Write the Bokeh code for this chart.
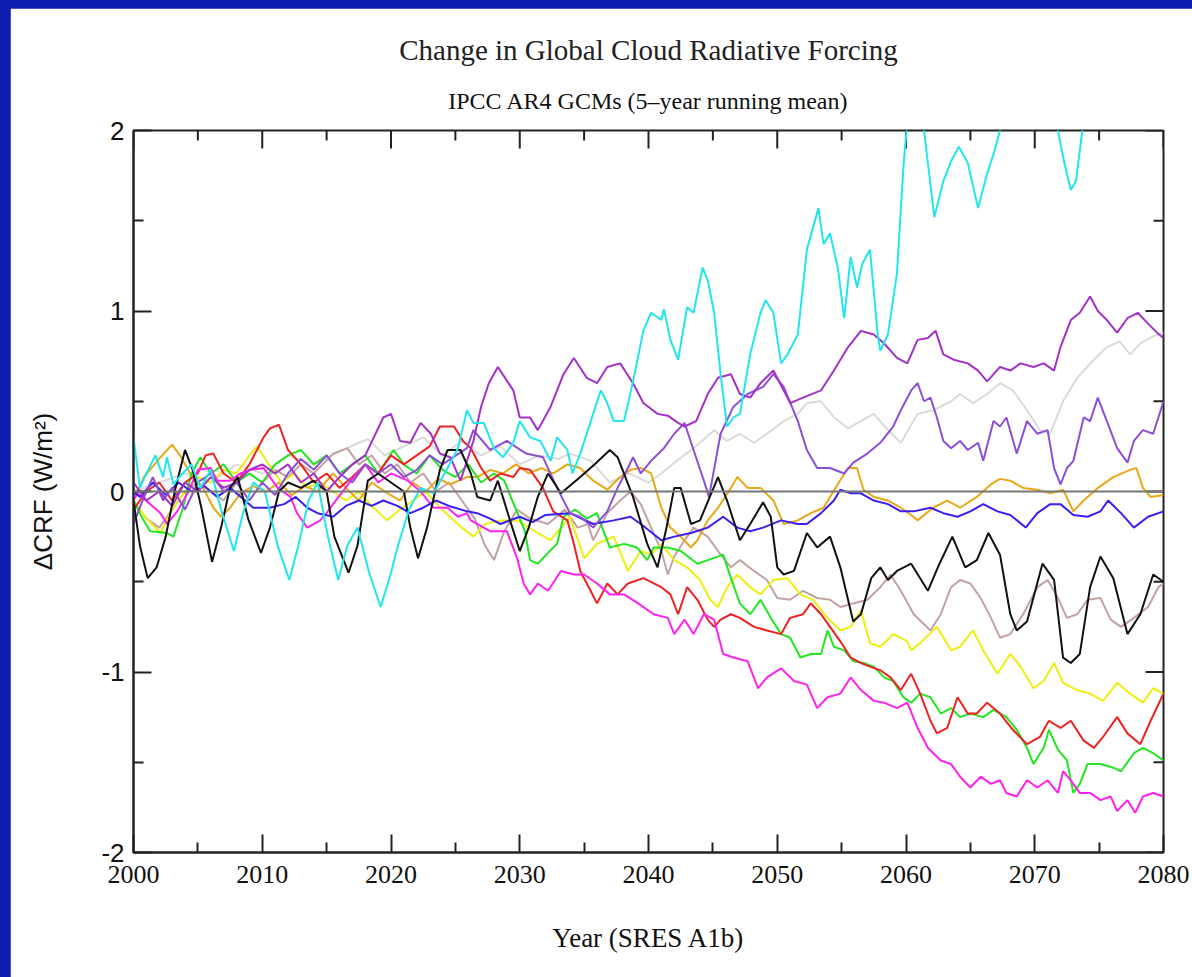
import math
from bokeh.plotting import figure
from bokeh.models import Range1d, LinearAxis, Span, Title, FixedTicker
from bokeh.layouts import column
from bokeh.embed import file_html
from bokeh.resources import INLINE

# ---------------- data ----------------
x_ticks = [2000, 2010, 2020, 2030, 2040, 2050, 2060, 2070, 2080]
x_minor = [2005, 2015, 2025, 2035, 2045, 2055, 2065, 2075]
y_ticks = [-2, -1, 0, 1, 2]
y_minor = [-1.5, -0.5, 0.5, 1.5]
y_tick_labels = ["-2", "-1", "0", "1", "2"]

gray_yr = [2000, 2002, 2004, 2006, 2008, 2010, 2012, 2014, 2016, 2017.5, 2018.2, 2019.5, 2021, 2022.5, 2024, 2025.5, 2027, 2028.5, 2030, 2031.5, 2033, 2033.9, 2035.5, 2037, 2038.5, 2040, 2041, 2042, 2043.5, 2045.1, 2046.1, 2047.1, 2048.2, 2049.2, 2050.5, 2051.6, 2052.3, 2053.4, 2054.4, 2055.5, 2056.5, 2057.5, 2058.6, 2059.6, 2060.9, 2062.1, 2063.5, 2064.2, 2065.2, 2066.3, 2067.3, 2068.3, 2069.4, 2070.4, 2071.2, 2072.2, 2073.3, 2074.6, 2075.6, 2076.6, 2077.4, 2078.2, 2079.2, 2080]
gray_val = [0.0, 0.05, 0.1, 0.05, 0.15, 0.1, 0.2, 0.15, 0.22, 0.27, 0.29, 0.2, 0.25, 0.3, 0.2, 0.28, 0.2, 0.25, 0.15, 0.2, 0.18, 0.21, 0.17, 0.05, 0.1, 0.05, 0.1, 0.16, 0.24, 0.34, 0.28, 0.32, 0.27, 0.32, 0.39, 0.43, 0.49, 0.5, 0.41, 0.35, 0.39, 0.43, 0.34, 0.27, 0.43, 0.45, 0.5, 0.54, 0.49, 0.54, 0.6, 0.56, 0.45, 0.34, 0.32, 0.5, 0.63, 0.73, 0.8, 0.83, 0.76, 0.82, 0.86, 0.88]

rosy_yr = [2000, 2001, 2002, 2003, 2004, 2005, 2006, 2007, 2008, 2009, 2010, 2011, 2012, 2013, 2014, 2015.5, 2016.6, 2017.5, 2018.5, 2019.5, 2020.5, 2021.5, 2022.5, 2023.5, 2024.5, 2025.5, 2026.5, 2027.3, 2028, 2028.8, 2029.8, 2030.8, 2032.2, 2033.5, 2034.5, 2035.3, 2035.7, 2036.8, 2037.8, 2038.6, 2039.4, 2040.2, 2041, 2041.5, 2042, 2042.8, 2043.5, 2044.6, 2045.6, 2046.4, 2047.1, 2048.2, 2049.2, 2050, 2051, 2052, 2053.1, 2054.1, 2054.9, 2055.9, 2057, 2058, 2058.8, 2059.6, 2060.6, 2061.9, 2062.7, 2063.5, 2064.2, 2065, 2065.8, 2066.6, 2067.3, 2068.1, 2069.1, 2070.2, 2071, 2071.8, 2072.5, 2073.3, 2074.1, 2075.1, 2075.9, 2076.7, 2077.7, 2078.8, 2079.6, 2080]
rosy_val = [-0.05, -0.15, -0.2, -0.1, 0.0, 0.05, 0.0, -0.05, 0.05, 0.1, 0.05, 0.12, 0.08, 0.15, 0.1, 0.21, 0.24, 0.15, 0.2, 0.1, 0.15, 0.05, 0.1, 0.0, 0.05, -0.05, -0.15, -0.3, -0.38, -0.22, -0.1, -0.15, -0.18, -0.1, -0.2, -0.18, -0.27, -0.12, -0.05, 0.0, -0.07, -0.2, -0.33, -0.46, -0.36, -0.27, -0.2, -0.25, -0.35, -0.42, -0.38, -0.44, -0.49, -0.59, -0.6, -0.55, -0.59, -0.6, -0.64, -0.62, -0.6, -0.53, -0.46, -0.55, -0.68, -0.77, -0.68, -0.53, -0.49, -0.51, -0.59, -0.7, -0.81, -0.79, -0.68, -0.53, -0.49, -0.59, -0.7, -0.68, -0.6, -0.59, -0.71, -0.75, -0.7, -0.64, -0.53, -0.51]

yellow_yr = [2000, 2001, 2002.1, 2003, 2004, 2005, 2006, 2007, 2008, 2009, 2009.6, 2010.5, 2011.5, 2012.5, 2013.5, 2014.5, 2015.5, 2016.5, 2017.5, 2018.5, 2019.7, 2020.7, 2021.7, 2022.7, 2023.7, 2024.7, 2025.5, 2026.4, 2027.3, 2028.5, 2029.8, 2031.4, 2032.4, 2033.9, 2035, 2036, 2037.3, 2038.4, 2039.4, 2040.2, 2041, 2042, 2043, 2044, 2044.8, 2045.4, 2046.1, 2046.9, 2047.9, 2048.7, 2049.7, 2050.8, 2051.8, 2052.8, 2053.9, 2054.9, 2055.7, 2056.5, 2057.2, 2058, 2059, 2060.1, 2060.4, 2061.1, 2062.4, 2063.5, 2064.2, 2065.2, 2066, 2067.1, 2068.1, 2068.9, 2069.9, 2070.7, 2071.5, 2072.2, 2073.3, 2074.3, 2075.3, 2076.4, 2077.4, 2078.4, 2079.2, 2080]
yellow_val = [-0.05, -0.15, -0.23, -0.1, 0.0, 0.08, 0.05, 0.12, 0.1, 0.2, 0.25, 0.15, 0.05, 0.1, 0.02, 0.05, 0.0, -0.05, 0.0, -0.08, -0.16, -0.1, -0.05, 0.0, -0.08, -0.15, -0.2, -0.25, -0.18, -0.16, -0.16, -0.23, -0.27, -0.14, -0.37, -0.29, -0.25, -0.44, -0.33, -0.35, -0.29, -0.38, -0.42, -0.49, -0.6, -0.64, -0.53, -0.46, -0.53, -0.57, -0.49, -0.48, -0.57, -0.6, -0.7, -0.77, -0.75, -0.66, -0.84, -0.86, -0.79, -0.83, -0.88, -0.84, -0.75, -0.88, -0.86, -0.77, -0.88, -1.01, -0.9, -0.97, -1.09, -1.05, -0.95, -1.06, -1.1, -1.12, -1.16, -1.06, -1.12, -1.17, -1.09, -1.12]

orange_yr = [2000, 2000.8, 2002.1, 2003, 2003.7, 2004.4, 2005.4, 2006.2, 2006.8, 2007.5, 2008.3, 2009.3, 2010.3, 2011.3, 2012.3, 2013.3, 2014.3, 2015.5, 2016.5, 2017.5, 2018.5, 2019.5, 2020.7, 2021.7, 2022.7, 2023.7, 2024.6, 2025.9, 2026.7, 2027.7, 2028.7, 2029.7, 2030.7, 2031.7, 2032.6, 2033.7, 2034.7, 2035.7, 2036.8, 2037.8, 2038.6, 2039.4, 2040.2, 2041, 2041.7, 2042.5, 2043.3, 2043.8, 2044.6, 2045.4, 2046.4, 2046.9, 2047.7, 2048.7, 2049.7, 2050.5, 2051.6, 2052.6, 2053.6, 2054.7, 2055.5, 2056.2, 2056.7, 2057.5, 2058.6, 2059.6, 2060.4, 2060.9, 2062.1, 2063.2, 2064.2, 2065.5, 2066.6, 2067.3, 2068.1, 2069.1, 2070.2, 2071.2, 2072.2, 2073, 2073.8, 2074.9, 2076.1, 2077.4, 2077.9, 2078.4, 2079, 2080]
orange_val = [-0.05, 0.08, 0.19, 0.26, 0.19, 0.1, 0.02, -0.09, -0.14, -0.09, -0.01, 0.03, 0.0, 0.05, -0.02, 0.03, 0.0, 0.1, 0.02, -0.05, 0.05, 0.0, -0.05, 0.05, 0.0, 0.07, 0.04, 0.08, 0.08, 0.12, 0.1, 0.15, 0.1, 0.13, 0.1, 0.15, 0.13, 0.06, 0.01, 0.08, 0.12, 0.13, 0.1, -0.09, -0.2, -0.25, -0.31, -0.27, -0.16, -0.09, 0.02, 0.08, 0.02, 0.02, -0.05, -0.18, -0.16, -0.12, -0.09, 0.04, 0.13, 0.13, 0.01, -0.03, -0.05, -0.09, -0.13, -0.16, -0.09, -0.05, -0.09, -0.03, 0.04, 0.07, 0.06, 0.02, 0.01, -0.01, 0.01, -0.11, -0.05, 0.02, 0.08, 0.12, 0.13, 0.02, -0.03, -0.02]

green_yr = [2000, 2000.7, 2001.3, 2002.6, 2003.1, 2003.8, 2004.5, 2005.2, 2006, 2007, 2008, 2009, 2010, 2011, 2012, 2013, 2014, 2015, 2016, 2017, 2018, 2019, 2020.2, 2021, 2022, 2023, 2024, 2025, 2026, 2027, 2028, 2028.8, 2029.3, 2030.4, 2030.8, 2031.4, 2032.2, 2032.9, 2033.4, 2034.3, 2035.2, 2036, 2036.5, 2037, 2038.1, 2039.1, 2039.9, 2040.4, 2041.5, 2042.5, 2043.8, 2044.6, 2045.8, 2046.4, 2047.1, 2047.9, 2048.7, 2049.5, 2050.3, 2051, 2051.8, 2052.6, 2053.4, 2053.9, 2054.4, 2055.2, 2055.9, 2056.7, 2057.5, 2058.3, 2059, 2059.8, 2060.4, 2061.1, 2061.9, 2062.7, 2063.5, 2064.2, 2065, 2066, 2066.8, 2067.8, 2068.6, 2069.4, 2069.9, 2070.7, 2071.1, 2071.8, 2072.5, 2073, 2073.5, 2074.1, 2075.1, 2076.1, 2076.7, 2077.7, 2078.4, 2079.2, 2080]
green_val = [-0.05, -0.15, -0.22, -0.23, -0.25, -0.1, 0.1, 0.19, 0.1, 0.15, 0.05, 0.1, 0.05, 0.15, 0.2, 0.23, 0.15, 0.2, 0.1, 0.15, 0.2, 0.1, 0.23, 0.15, 0.1, 0.2, 0.12, 0.08, 0.15, 0.05, 0.1, 0.06, -0.03, -0.22, -0.38, -0.4, -0.34, -0.29, -0.14, -0.1, -0.15, -0.12, -0.22, -0.31, -0.29, -0.31, -0.38, -0.31, -0.31, -0.33, -0.4, -0.38, -0.35, -0.48, -0.62, -0.68, -0.6, -0.7, -0.79, -0.81, -0.92, -0.9, -0.9, -0.77, -0.86, -0.88, -0.94, -0.95, -0.97, -1.03, -1.05, -1.14, -1.17, -1.12, -1.14, -1.23, -1.2, -1.25, -1.23, -1.25, -1.21, -1.25, -1.32, -1.42, -1.51, -1.42, -1.32, -1.43, -1.49, -1.67, -1.62, -1.51, -1.51, -1.53, -1.55, -1.45, -1.42, -1.45, -1.49]

red_yr = [2000, 2001, 2002, 2003, 2004, 2005, 2005.6, 2006.2, 2007, 2008, 2009, 2010.1, 2010.6, 2011.3, 2012, 2013, 2014, 2015, 2016, 2017, 2018, 2019, 2020, 2021, 2022, 2023, 2023.8, 2024.9, 2025.6, 2026.2, 2027, 2027.7, 2028.5, 2029.5, 2030, 2030.8, 2031.8, 2032.6, 2033.7, 2034.2, 2034.7, 2035.5, 2036, 2036.8, 2037.6, 2038.4, 2039.6, 2041, 2041.7, 2042.3, 2043, 2043.8, 2044.6, 2045.1, 2045.6, 2046.4, 2047.1, 2048.2, 2049.2, 2050.3, 2051, 2052, 2052.6, 2053.4, 2054.1, 2054.9, 2055.7, 2056.5, 2057.2, 2058, 2058.8, 2059.6, 2060.4, 2061.1, 2061.9, 2062.4, 2063.2, 2064, 2064.8, 2065.5, 2066.3, 2067.3, 2068.3, 2069.4, 2070.4, 2071.1, 2072, 2072.8, 2073.8, 2074.6, 2075.3, 2076.4, 2077.2, 2078.2, 2079, 2080]
red_val = [-0.1, 0.0, 0.05, -0.05, 0.05, 0.1, 0.2, 0.21, 0.1, 0.05, 0.15, 0.3, 0.35, 0.37, 0.23, 0.15, 0.05, 0.1, 0.02, 0.08, 0.15, 0.1, 0.2, 0.15, 0.2, 0.25, 0.36, 0.36, 0.28, 0.24, 0.13, 0.06, 0.1, 0.08, 0.13, 0.12, 0.02, -0.11, -0.16, -0.29, -0.44, -0.55, -0.62, -0.51, -0.57, -0.51, -0.48, -0.53, -0.57, -0.68, -0.53, -0.6, -0.71, -0.75, -0.71, -0.68, -0.7, -0.75, -0.77, -0.79, -0.7, -0.68, -0.62, -0.68, -0.75, -0.83, -0.92, -0.95, -0.97, -0.99, -1.03, -1.1, -1.01, -1.12, -1.27, -1.34, -1.31, -1.14, -1.23, -1.23, -1.17, -1.23, -1.32, -1.4, -1.36, -1.27, -1.31, -1.27, -1.38, -1.42, -1.36, -1.25, -1.34, -1.4, -1.27, -1.12]

magenta_yr = [2000, 2000.3, 2001.3, 2002.1, 2002.6, 2003.4, 2004.2, 2005, 2006, 2006.5, 2007.5, 2008.3, 2009.1, 2010.1, 2011.2, 2012.2, 2012.7, 2013.5, 2014.5, 2015, 2015.5, 2016.9, 2018, 2019, 2020, 2021.3, 2022.3, 2023.3, 2024.4, 2025.2, 2025.9, 2026.2, 2027.7, 2029, 2029.8, 2030.3, 2030.8, 2031.4, 2032.2, 2033.2, 2034.2, 2035, 2036, 2037, 2038.1, 2039.2, 2040.4, 2041.5, 2042, 2042.8, 2043.5, 2044.3, 2045.1, 2045.8, 2046.6, 2047.7, 2048.5, 2049.2, 2050.3, 2051.3, 2052.3, 2053.1, 2053.9, 2054.9, 2055.7, 2056.5, 2057.5, 2058.3, 2059.3, 2060.1, 2060.9, 2061.7, 2062.7, 2063.5, 2064.2, 2065, 2065.8, 2066.6, 2067.3, 2067.8, 2068.6, 2069.4, 2070.2, 2071, 2071.8, 2072.2, 2072.8, 2073.5, 2074.3, 2075.1, 2075.9, 2076.4, 2077.2, 2077.8, 2078.4, 2079.2, 2080]
magenta_val = [-0.05, -0.01, -0.07, -0.12, -0.18, -0.11, -0.01, 0.12, 0.13, 0.06, 0.06, 0.1, 0.12, 0.13, 0.02, -0.03, -0.12, -0.2, -0.16, -0.12, -0.07, 0.06, 0.15, 0.05, 0.1, 0.06, 0.0, -0.09, -0.09, -0.14, -0.12, -0.16, -0.22, -0.22, -0.37, -0.51, -0.57, -0.51, -0.55, -0.44, -0.46, -0.46, -0.51, -0.57, -0.57, -0.62, -0.68, -0.7, -0.79, -0.71, -0.79, -0.68, -0.71, -0.9, -0.92, -0.94, -1.09, -1.03, -0.98, -1.05, -1.07, -1.2, -1.14, -1.12, -1.03, -1.1, -1.16, -1.17, -1.2, -1.17, -1.31, -1.42, -1.49, -1.51, -1.58, -1.64, -1.58, -1.62, -1.6, -1.67, -1.69, -1.6, -1.64, -1.6, -1.67, -1.55, -1.6, -1.67, -1.67, -1.71, -1.69, -1.77, -1.71, -1.78, -1.69, -1.67, -1.69]

blue_yr = [2000, 2000.5, 2001.5, 2002.5, 2003.5, 2004.5, 2005.5, 2006.5, 2007.5, 2008.5, 2009.3, 2010.6, 2011.7, 2012.6, 2013.5, 2014.3, 2015.5, 2016.5, 2017.5, 2018.5, 2019.4, 2020.5, 2021.5, 2022.5, 2023.5, 2024.5, 2025.9, 2026.7, 2027.7, 2028.5, 2030, 2031, 2032, 2033.9, 2035.7, 2037.3, 2038.6, 2039.4, 2041, 2042, 2043.3, 2044.6, 2045.8, 2046.9, 2047.9, 2048.9, 2050.3, 2051.6, 2052.3, 2053.4, 2054.4, 2054.9, 2055.7, 2056.5, 2057.5, 2058.6, 2059.6, 2060.6, 2061.9, 2062.9, 2064, 2065, 2066, 2067.1, 2068.1, 2069.3, 2070.2, 2071.2, 2072, 2073, 2074.1, 2075.1, 2075.7, 2076.7, 2077.7, 2078.8, 2080]
blue_val = [0.0, -0.03, 0.05, -0.02, 0.05, 0.0, 0.03, -0.03, 0.02, -0.04, -0.09, -0.09, -0.07, -0.03, -0.09, -0.12, -0.14, -0.08, -0.05, -0.08, -0.05, -0.08, -0.12, -0.09, -0.05, -0.08, -0.11, -0.12, -0.15, -0.18, -0.14, -0.17, -0.13, -0.12, -0.18, -0.16, -0.14, -0.18, -0.27, -0.25, -0.23, -0.2, -0.14, -0.2, -0.22, -0.2, -0.16, -0.18, -0.18, -0.12, -0.05, 0.01, -0.01, -0.01, -0.05, -0.07, -0.11, -0.11, -0.09, -0.12, -0.14, -0.11, -0.07, -0.11, -0.13, -0.2, -0.12, -0.07, -0.07, -0.13, -0.14, -0.11, -0.05, -0.12, -0.2, -0.14, -0.11]

purple2_yr = [2000, 2000.7, 2001.5, 2002.3, 2003, 2004, 2005, 2006, 2007, 2008, 2009, 2010, 2011, 2012, 2013, 2014, 2015, 2016, 2017, 2018, 2019, 2020, 2021, 2022, 2023, 2024, 2025.9, 2026.4, 2027.7, 2029, 2030.5, 2031.8, 2032.9, 2033.9, 2034.7, 2035.7, 2036.8, 2037.6, 2038.4, 2038.8, 2039.4, 2040.2, 2041.2, 2042, 2042.8, 2043.5, 2044.3, 2044.7, 2045.6, 2046.6, 2047.7, 2048.9, 2049.7, 2050.5, 2051.6, 2052.3, 2053.1, 2054.1, 2055.2, 2055.9, 2057, 2058, 2059, 2059.6, 2060.4, 2060.9, 2061.4, 2061.9, 2062.4, 2062.9, 2063.5, 2064.2, 2064.8, 2065.6, 2066, 2066.8, 2067.3, 2067.8, 2068.6, 2069.4, 2070.2, 2071, 2071.5, 2072, 2072.5, 2073, 2073.8, 2074.3, 2074.9, 2075.6, 2076.4, 2077.2, 2077.7, 2078.4, 2079.2, 2080]
purple2_val = [-0.18, -0.05, 0.08, -0.05, 0.02, -0.1, 0.05, 0.1, 0.0, 0.05, -0.05, 0.05, -0.02, 0.1, 0.18, 0.12, 0.2, 0.1, 0.05, 0.15, 0.1, 0.15, 0.08, 0.12, 0.2, 0.15, 0.24, 0.34, 0.23, 0.28, 0.21, 0.19, 0.02, -0.12, -0.14, -0.2, -0.11, 0.02, 0.13, 0.19, 0.1, 0.17, 0.24, 0.32, 0.38, 0.23, 0.06, -0.03, 0.32, 0.47, 0.54, 0.58, 0.65, 0.58, 0.39, 0.23, 0.13, 0.13, 0.1, 0.16, 0.21, 0.27, 0.36, 0.45, 0.56, 0.6, 0.5, 0.52, 0.41, 0.28, 0.24, 0.28, 0.23, 0.27, 0.17, 0.39, 0.36, 0.41, 0.21, 0.39, 0.32, 0.34, 0.13, 0.04, 0.13, 0.17, 0.41, 0.39, 0.52, 0.39, 0.24, 0.16, 0.28, 0.34, 0.32, 0.5]

purple1_yr = [2000, 2001, 2002, 2003, 2004, 2005, 2006, 2007, 2008, 2009, 2010, 2011, 2012, 2013, 2014, 2015, 2016, 2017, 2018, 2019.4, 2020, 2020.7, 2021.5, 2022.3, 2023.1, 2023.8, 2024.6, 2025.4, 2026.4, 2027, 2027.6, 2028.3, 2029.5, 2030, 2030.8, 2031.4, 2032.4, 2033.4, 2034.2, 2035.2, 2036, 2036.8, 2037.8, 2038.8, 2039.6, 2040.7, 2041.5, 2042.3, 2042.8, 2043.7, 2044.6, 2045.4, 2046.4, 2047.1, 2047.9, 2048.7, 2049.7, 2050.5, 2051, 2052, 2053.4, 2054.4, 2055.5, 2056.5, 2057.5, 2058.3, 2059.3, 2060.1, 2060.9, 2061.7, 2062.3, 2062.9, 2063.7, 2064.8, 2065.6, 2066.3, 2066.8, 2067.3, 2068.1, 2068.9, 2069.9, 2070.7, 2071.5, 2072, 2072.8, 2073.5, 2074.3, 2074.9, 2075.6, 2076.4, 2077.2, 2078, 2078.8, 2079.5, 2080]
purple1_val = [0.05, -0.05, 0.0, -0.08, 0.05, 0.0, 0.08, 0.02, 0.05, 0.12, 0.15, 0.1, 0.15, 0.05, 0.1, 0.0, 0.08, 0.15, 0.2, 0.41, 0.43, 0.28, 0.27, 0.38, 0.32, 0.21, 0.19, 0.06, 0.28, 0.47, 0.6, 0.69, 0.56, 0.41, 0.41, 0.34, 0.47, 0.65, 0.74, 0.63, 0.6, 0.69, 0.71, 0.6, 0.49, 0.43, 0.42, 0.38, 0.36, 0.39, 0.54, 0.63, 0.65, 0.54, 0.52, 0.6, 0.67, 0.56, 0.49, 0.52, 0.56, 0.67, 0.8, 0.89, 0.87, 0.82, 0.74, 0.71, 0.84, 0.85, 0.89, 0.76, 0.73, 0.71, 0.67, 0.61, 0.65, 0.69, 0.67, 0.71, 0.69, 0.71, 0.67, 0.8, 0.95, 0.99, 1.08, 1.0, 0.95, 0.88, 0.96, 0.99, 0.93, 0.88, 0.85]

black_yr = [2000, 2000.5, 2001.1, 2001.8, 2002.5, 2003.2, 2004, 2004.6, 2005.3, 2006.1, 2006.8, 2007.5, 2008.1, 2008.9, 2009.9, 2010.6, 2011.3, 2012, 2013, 2014, 2015, 2015.6, 2016.7, 2017.4, 2018.2, 2019, 2020, 2021, 2021.5, 2022.1, 2022.8, 2023.8, 2024.4, 2025.4, 2026.2, 2026.7, 2027.7, 2028.3, 2029.2, 2030, 2030.7, 2031.4, 2032.2, 2033.2, 2034.7, 2035.8, 2037, 2037.6, 2038.8, 2039.9, 2040.7, 2041.4, 2042, 2042.5, 2043.3, 2044, 2045.4, 2046.1, 2047.1, 2047.9, 2048.9, 2049.5, 2050, 2050.5, 2051.3, 2052.3, 2053.1, 2054.1, 2054.9, 2055.9, 2056.5, 2057.3, 2058, 2058.6, 2059.3, 2060.4, 2061.7, 2062.6, 2063.6, 2064.6, 2065.5, 2066.4, 2067.3, 2068.1, 2068.6, 2069.4, 2070.6, 2071.5, 2072.2, 2072.8, 2073.5, 2074.3, 2075.1, 2076.1, 2077.2, 2078.2, 2079.2, 2080]
black_val = [-0.05, -0.3, -0.48, -0.42, -0.25, 0.0, 0.23, 0.12, -0.1, -0.39, -0.2, 0.02, 0.08, -0.15, -0.34, -0.2, 0.0, 0.05, 0.02, 0.06, 0.0, -0.25, -0.45, -0.3, 0.06, 0.1, 0.05, 0.0, -0.2, -0.37, -0.2, 0.12, 0.23, 0.23, 0.1, -0.03, -0.05, 0.06, -0.15, -0.33, -0.2, -0.03, 0.1, -0.01, 0.08, 0.15, 0.23, 0.19, -0.03, -0.29, -0.42, -0.2, 0.02, 0.02, -0.18, -0.16, 0.08, -0.05, -0.27, -0.18, -0.06, -0.14, -0.42, -0.46, -0.44, -0.23, -0.31, -0.25, -0.42, -0.72, -0.68, -0.48, -0.42, -0.49, -0.44, -0.4, -0.55, -0.4, -0.25, -0.42, -0.38, -0.23, -0.35, -0.68, -0.77, -0.72, -0.4, -0.49, -0.92, -0.95, -0.9, -0.53, -0.36, -0.48, -0.79, -0.68, -0.46, -0.5]

cyan_yr = [2000, 2000.5, 2001, 2001.7, 2002.3, 2002.6, 2003.1, 2003.8, 2004.5, 2005.2, 2006, 2006.8, 2007.8, 2008.5, 2009.3, 2010.2, 2011.2, 2012.1, 2012.8, 2013.6, 2014.3, 2015.1, 2015.9, 2016.6, 2017.4, 2018.3, 2019.2, 2020, 2020.5, 2021.4, 2022.3, 2023.3, 2024.4, 2025.2, 2025.9, 2026.4, 2027.2, 2028, 2028.7, 2029.5, 2030, 2030.8, 2031.6, 2032.4, 2032.9, 2033.7, 2034.1, 2034.7, 2035.7, 2036.3, 2036.8, 2037.3, 2038.1, 2038.8, 2039.6, 2040.2, 2041, 2041.2, 2041.7, 2042.3, 2043, 2043.5, 2044.2, 2044.6, 2045.1, 2045.6, 2046.1, 2046.6, 2047.1, 2047.9, 2048.7, 2049.1, 2049.7, 2050.3, 2050.8, 2051.6, 2052.3, 2053.2, 2053.6, 2054.1, 2054.7, 2055.2, 2055.7, 2056.2, 2056.6, 2057.2, 2057.8, 2058, 2058.6, 2059.3, 2059.8, 2060.1, 2060.7, 2061.2, 2061.4, 2062.2, 2062.9, 2063.5, 2064.1, 2064.8, 2065.6, 2066.3, 2066.8, 2067.3, 2068, 2069, 2070, 2071, 2071.8, 2072.3, 2072.8, 2073.2, 2073.7, 2074.5, 2076, 2078, 2080]
cyan_val = [0.3, 0.02, 0.1, 0.2, 0.08, 0.19, 0.04, 0.1, 0.15, 0.02, 0.12, -0.1, -0.33, -0.12, 0.05, 0.0, -0.3, -0.49, -0.3, -0.05, 0.05, -0.25, -0.49, -0.3, -0.2, -0.45, -0.64, -0.45, -0.31, -0.1, 0.02, -0.01, 0.13, 0.24, 0.45, 0.38, 0.38, 0.24, 0.19, 0.27, 0.39, 0.3, 0.28, 0.17, 0.3, 0.23, 0.1, 0.21, 0.43, 0.56, 0.49, 0.39, 0.39, 0.61, 0.89, 0.99, 0.95, 1.01, 0.84, 0.73, 1.02, 0.99, 1.24, 1.17, 0.99, 0.65, 0.36, 0.41, 0.43, 0.76, 0.99, 1.06, 0.99, 0.71, 0.76, 0.87, 1.34, 1.57, 1.37, 1.43, 1.24, 0.96, 1.3, 1.13, 1.26, 1.34, 0.87, 0.78, 0.87, 1.21, 1.8, 2.05, 2.4, 2.1, 2.0, 1.52, 1.72, 1.83, 1.91, 1.82, 1.57, 1.76, 1.87, 2.0, 2.3, 2.5, 2.45, 2.3, 2.0, 1.82, 1.67, 1.72, 2.0, 2.3, 2.5, 2.6, 2.7]

series = [
    (gray_yr, gray_val, "#dadada"),
    (rosy_yr, rosy_val, "#c2a3a3"),
    (yellow_yr, yellow_val, "#eeee10"),
    (orange_yr, orange_val, "#e8a818"),
    (green_yr, green_val, "#22e622"),
    (red_yr, red_val, "#ee2222"),
    (magenta_yr, magenta_val, "#ff22ee"),
    (blue_yr, blue_val, "#3b1ff0"),
    (purple2_yr, purple2_val, "#8c4fd6"),
    (purple1_yr, purple1_val, "#a232c8"),
    (black_yr, black_val, "#111111"),
    (cyan_yr, cyan_val, "#22e6ee"),
]

# ---------------- figure ----------------
SERIF = "Liberation Serif"
SANS = "Liberation Sans"
AX = "#222222"

p = figure(width=1182, height=969, x_range=Range1d(2000, 2080), y_range=Range1d(-2, 2),
           output_backend="svg", toolbar_location=None, title=None,
           x_axis_location=None, y_axis_location=None,
           min_border_left=123, min_border_right=29, min_border_top=122, min_border_bottom=125,
           background_fill_color="white", border_fill_color="white")
p.xgrid.visible = False
p.ygrid.visible = False
p.outline_line_color = AX
p.outline_line_width = 2

def style_axis(ax):
    ax.major_tick_in = 18
    ax.major_tick_out = 0
    ax.minor_tick_in = 10
    ax.minor_tick_out = 0
    ax.axis_line_color = AX
    ax.axis_line_width = 2
    ax.major_tick_line_color = AX
    ax.major_tick_line_width = 2
    ax.minor_tick_line_color = AX
    ax.minor_tick_line_width = 2

xb = LinearAxis(ticker=FixedTicker(ticks=x_ticks, minor_ticks=x_minor))
style_axis(xb)
xb.major_label_text_font = SERIF
xb.major_label_text_font_size = "26px"
xb.major_label_text_color = "#111111"
xb.major_label_standoff = 13
xb.axis_label = "Year (SRES A1b)"
xb.axis_label_text_font = SERIF
xb.axis_label_text_font_size = "27px"
xb.axis_label_text_font_style = "normal"
xb.axis_label_text_color = "#111111"
xb.axis_label_standoff = 37
p.add_layout(xb, "below")

yl = LinearAxis(ticker=FixedTicker(ticks=y_ticks, minor_ticks=y_minor))
style_axis(yl)
yl.major_label_overrides = {t: s for t, s in zip(y_ticks, y_tick_labels)}
yl.major_label_text_font = SANS
yl.major_label_text_font_size = "26px"
yl.major_label_text_color = "#111111"
yl.major_label_standoff = 9
yl.axis_label = "\u0394CRF (W/m\u00b2)"
yl.axis_label_text_font = SANS
yl.axis_label_text_font_size = "26px"
yl.axis_label_text_font_style = "normal"
yl.axis_label_text_color = "#111111"
yl.axis_label_standoff = 40
p.add_layout(yl, "left")

# inward tick marks on the top and right frame edges (no labels there)
p.ray(x=x_ticks, y=[y_ticks[-1]] * len(x_ticks), length=18, length_units="screen",
      angle=-math.pi / 2, line_color=AX, line_width=2)
p.ray(x=x_minor, y=[y_ticks[-1]] * len(x_minor), length=10, length_units="screen",
      angle=-math.pi / 2, line_color=AX, line_width=2)
p.ray(x=[x_ticks[-1]] * len(y_ticks), y=y_ticks, length=18, length_units="screen",
      angle=math.pi, line_color=AX, line_width=2)
p.ray(x=[x_ticks[-1]] * len(y_minor), y=y_minor, length=10, length_units="screen",
      angle=math.pi, line_color=AX, line_width=2)

p.add_layout(Title(text="IPCC AR4 GCMs (5\u2013year running mean)", align="center",
                   text_font=SERIF, text_font_size="24px", text_font_style="normal",
                   text_color="#111111", standoff=33), "above")
p.add_layout(Title(text="Change in Global Cloud Radiative Forcing", align="center",
                   text_font=SERIF, text_font_size="29px", text_font_style="normal",
                   text_color="#222222", standoff=8), "above")

p.add_layout(Span(location=0, dimension="width", line_color="#777777", line_width=2))

for xs, ys, c in series:
    p.line(xs, ys, line_color=c, line_width=2)

layout = column(p, styles={"background-color": "#0c1cae", "padding-left": "10px",
                           "padding-top": "8px"})

open("out.html", "w").write(file_html(layout, INLINE))
